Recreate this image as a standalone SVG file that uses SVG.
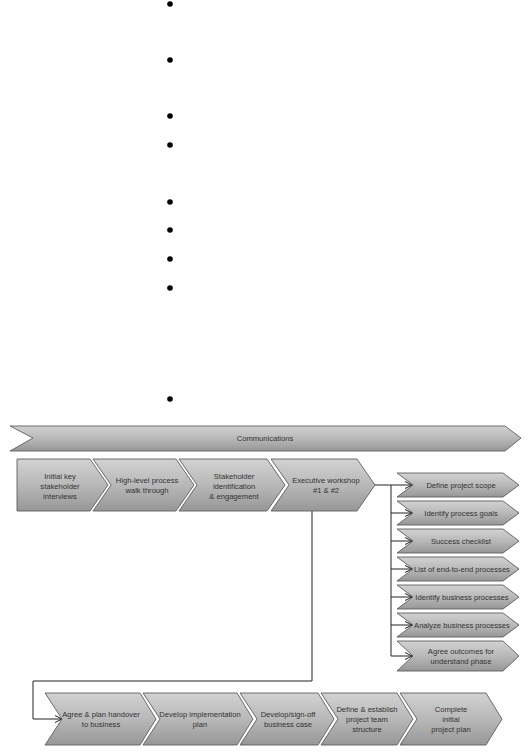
<svg xmlns="http://www.w3.org/2000/svg" width="528" height="755" viewBox="0 0 528 755">
<defs>
<linearGradient id="g" x1="0" y1="0" x2="0" y2="1">
<stop offset="0" stop-color="#d2d2d2"/>
<stop offset="0.5" stop-color="#b8b8b8"/>
<stop offset="1" stop-color="#979797"/>
</linearGradient>
<marker id="arr" markerWidth="10" markerHeight="10" refX="8" refY="5" orient="auto" markerUnits="userSpaceOnUse">
<polyline points="1,1.5 8,5 1,8.5" fill="none" stroke="#222" stroke-width="1"/>
</marker>
<style>
.ch{fill:url(#g);stroke:#5e5e5e;stroke-width:0.9}
.t{font-family:"Liberation Sans",Arial,sans-serif;font-size:7.6px;fill:#333;text-anchor:middle}
.c{fill:none;stroke:#222;stroke-width:1}
.b{fill:#000}
</style>
</defs>
<rect width="528" height="755" fill="#fff"/>
<g id="bullets">
<circle class="b" cx="170" cy="4" r="2.8"/>
<circle class="b" cx="170" cy="60" r="2.8"/>
<circle class="b" cx="170" cy="116" r="2.8"/>
<circle class="b" cx="170" cy="145" r="2.8"/>
<circle class="b" cx="170" cy="202" r="2.8"/>
<circle class="b" cx="170" cy="230" r="2.8"/>
<circle class="b" cx="170" cy="259" r="2.8"/>
<circle class="b" cx="170" cy="288" r="2.8"/>
<circle class="b" cx="170" cy="399" r="2.8"/>
</g>
<g id="communications">
<polygon class="ch" points="10,426 505,426 521,438 505,451 10,451 33,438" stroke="#444"/>
<text class="t" x="265" y="441">Communications</text>
</g>
<g id="connectors">
<polyline class="c" points="375,485 412,485" marker-end="url(#arr)"/>
<polyline class="c" points="391,485 391,656"/>
<polyline class="c" points="391,513 412,513" marker-end="url(#arr)"/>
<polyline class="c" points="391,541 412,541" marker-end="url(#arr)"/>
<polyline class="c" points="391,569 412,569" marker-end="url(#arr)"/>
<polyline class="c" points="391,597 412,597" marker-end="url(#arr)"/>
<polyline class="c" points="391,625 412,625" marker-end="url(#arr)"/>
<polyline class="c" points="391,656 412,656" marker-end="url(#arr)"/>
<polyline class="c" points="312,509 312,681 33,681 33,719 62,719" marker-end="url(#arr)"/>
</g>
<g id="n1">
<polygon class="ch" points="17,459 90,459 108,485 90,511 17,511"/>
<text class="t" x="60" y="479">Initial key</text>
<text class="t" x="60" y="489">stakeholder</text>
<text class="t" x="60" y="499">interviews</text>
</g>
<g id="n2">
<polygon class="ch" points="93,459 176,459 194,485 176,511 93,511 111,485"/>
<text class="t" x="147" y="483">High-level process</text>
<text class="t" x="147" y="493">walk through</text>
</g>
<g id="n3">
<polygon class="ch" points="179,459 267,459 285,485 267,511 179,511 197,485"/>
<text class="t" x="234" y="479">Stakeholder</text>
<text class="t" x="234" y="489">identification</text>
<text class="t" x="234" y="499">&amp; engagement</text>
</g>
<g id="n4">
<polygon class="ch" points="271,459 357,459 375,485 357,511 271,511 289,485"/>
<text class="t" x="326" y="483">Executive workshop</text>
<text class="t" x="326" y="493">#1 &amp; #2</text>
</g>
<g id="r1">
<polygon class="ch" points="397,473 503,473 519,485 503,497 397,497 413,485"/>
<text class="t" x="461" y="488">Define project scope</text>
</g>
<g id="r2">
<polygon class="ch" points="397,501 503,501 519,513 503,525 397,525 413,513"/>
<text class="t" x="461" y="516">Identify process goals</text>
</g>
<g id="r3">
<polygon class="ch" points="397,529 503,529 519,541 503,553 397,553 413,541"/>
<text class="t" x="461" y="544">Success checklist</text>
</g>
<g id="r4">
<polygon class="ch" points="397,557 503,557 519,569 503,581 397,581 413,569"/>
<text class="t" x="462" y="572">List of end-to-end processes</text>
</g>
<g id="r5">
<polygon class="ch" points="397,585 503,585 519,597 503,609 397,609 413,597"/>
<text class="t" x="462" y="600">Identify business processes</text>
</g>
<g id="r6">
<polygon class="ch" points="397,613 503,613 519,625 503,637 397,637 413,625"/>
<text class="t" x="462" y="628">Analyze business processes</text>
</g>
<g id="r7">
<polygon class="ch" points="397,641 503,641 519,656 503,671 397,671 413,656"/>
<text class="t" x="461" y="654">Agree outcomes for</text>
<text class="t" x="461" y="664">understand phase</text>
</g>
<g id="b1">
<polygon class="ch" points="45,693 140,693 156,719 140,745 45,745 62,719"/>
<text class="t" x="101" y="717">Agree &amp; plan handover</text>
<text class="t" x="101" y="727">to business</text>
</g>
<g id="b2">
<polygon class="ch" points="143,693 237,693 253,719 237,745 143,745 160,719"/>
<text class="t" x="200" y="717">Develop implementation</text>
<text class="t" x="200" y="727">plan</text>
</g>
<g id="b3">
<polygon class="ch" points="240,693 318,693 334,719 318,745 240,745 257,719"/>
<text class="t" x="288" y="717">Develop/sign-off</text>
<text class="t" x="288" y="727">business case</text>
</g>
<g id="b4">
<polygon class="ch" points="321,693 397,693 413,719 397,745 321,745 338,719"/>
<text class="t" x="367" y="712">Define &amp; establish</text>
<text class="t" x="367" y="722">project team</text>
<text class="t" x="367" y="732">structure</text>
</g>
<g id="b5">
<polygon class="ch" points="400,693 486,693 502,719 486,745 400,745 417,719"/>
<text class="t" x="451" y="712">Complete</text>
<text class="t" x="451" y="722">initial</text>
<text class="t" x="451" y="732">project plan</text>
</g>
</svg>
